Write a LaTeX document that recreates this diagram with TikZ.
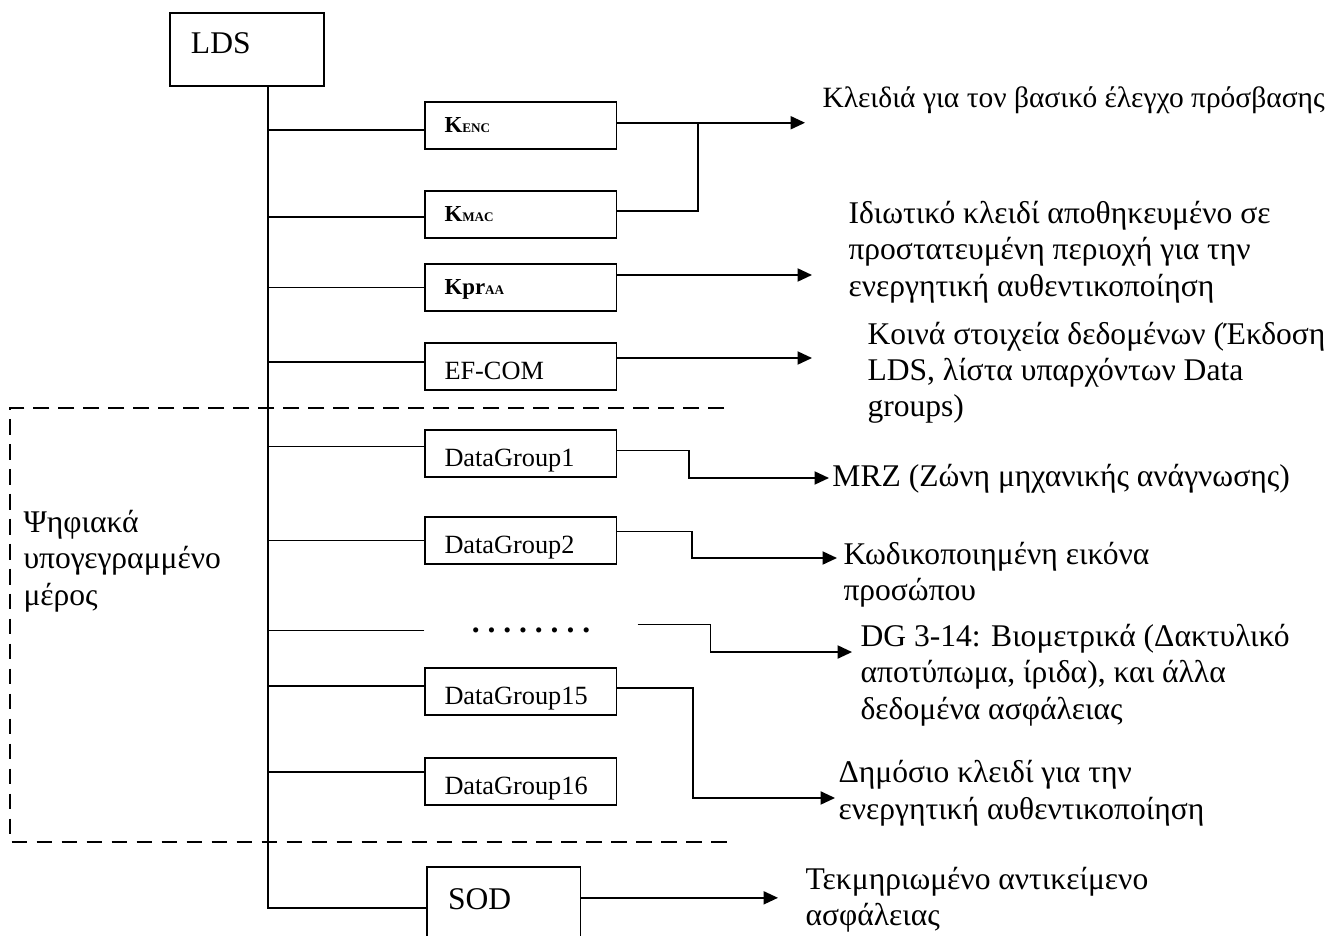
\documentclass[tikz,border=0pt]{standalone}
\usepackage{fontspec}
\setmainfont{Liberation Serif}
\usetikzlibrary{arrows.meta, positioning}

\begin{document}
\begin{tikzpicture}[
    node distance=0.5cm and 0.9cm,
    every node/.style={font=\fontsize{12}{13.7}\selectfont},
    blockLDS/.style={rectangle, draw=black, line width=0.75pt, outer sep=0pt, minimum width=2.057cm, minimum height=0.975cm, inner xsep=0.28cm, inner ysep=0pt, text width=1.497cm, align=left, text height=3.3pt, text depth=0pt},
    blockDG/.style={rectangle, draw=black, line width=0.75pt, outer sep=0pt, minimum width=2.565cm, minimum height=0.628cm, inner xsep=0.267cm, inner ysep=0pt, text width=2.031cm, align=left, text height=10pt, text depth=0pt, font=\fontsize{10}{12}\selectfont},
    blockKey/.style={blockDG, text height=5.6pt, font=\fontsize{8.7}{10}\selectfont\bfseries},
    blockSOD/.style={rectangle, draw=black, line width=0.75pt, outer sep=0pt, minimum width=2.057cm, minimum height=1.0cm, inner xsep=0.287cm, inner ysep=0pt, text width=1.483cm, align=left, text height=3.7pt, text depth=0pt},
    desc/.style={anchor=base west, inner sep=0pt, align=left},
    link/.style={line width=0.6pt},
    trunkline/.style={line width=0.75pt},
    arr/.style={line width=0.6pt, -{Triangle[length=5.5pt, width=5pt]}},
    signed/.style={line width=0.6pt, dash pattern=on 6pt off 3.5pt}
]
\useasboundingbox (0,0) rectangle (17.889,-12.505);

% ============== LDS (arriba) ==============
\node[blockLDS] (lds) at (3.300,-0.661) {LDS};
\coordinate (trunk) at ([xshift=0.281cm]lds.south);

% ============== Claves ==============
\node[blockKey] (kenc) at (6.954,-1.677) {K{\fontsize{5}{6}\selectfont ENC}};
\node[blockKey, below=0.561cm of kenc] (kmac) {K{\fontsize{5}{6}\selectfont MAC}};
\node[blockKey, below=0.347cm of kmac] (kpr) {Kpr{\fontsize{5}{6}\selectfont AA}};
\node[blockDG, below=0.428cm of kpr] (efcom) {EF-COM};

% ============== Data groups ==============
\node[blockDG, below=0.534cm of efcom] (dg1) {DataGroup1};
\node[blockDG, below=0.534cm of dg1] (dg2) {DataGroup2};
\node[below=0.568cm of dg2, xshift=0.14cm, minimum width=2.832cm, minimum height=0.628cm, inner sep=0pt, font=\fontsize{12}{13.7}\selectfont\bfseries\frenchspacing] (dots) {. . . . . . . .};
\node[blockDG, below=1.389cm of dg2] (dg15) {DataGroup15};
\node[blockDG, below=0.574cm of dg15] (dg16) {DataGroup16};
\node[blockSOD, below=0.828cm of dg16, xshift=-0.227cm] (sod) {SOD};

% ============== Textos (derecha) ==============
\node[desc, font=\fontsize{11.2}{13}\selectfont] (lblkeys) at (10.982,-1.430) {Κλειδιά για τον βασικό έλεγχο πρόσβασης};
\node[desc] (lblpriv) at (11.329,-3.955) {Ιδιωτικό κλειδί αποθηκευμένο σε\\προστατευμένη περιοχή για την\\ενεργητική αυθεντικοποίηση};
\node[desc] (lblcom) at (11.583,-5.571) {Κοινά στοιχεία δεδομένων (Έκδοση\\LDS, λίστα υπαρχόντων Data\\groups)};
\node[desc] (lblmrz) at (11.115,-6.493) {MRZ (Ζώνη μηχανικής ανάγνωσης)};
\node[desc] (lblface) at (11.262,-8.029) {Κωδικοποιημένη εικόνα\\προσώπου};
\node[desc] (lblbio) at (11.490,-9.606) {DG 3-14: Βιομετρικά (Δακτυλικό\\αποτύπωμα, ίριδα), και άλλα\\δεδομένα ασφάλειας};
\node[desc] (lblpub) at (11.196,-10.942) {Δημόσιο κλειδί για την\\ενεργητική αυθεντικοποίηση};
\node[desc] (lblsod) at (10.755,-12.371) {Τεκμηριωμένο αντικείμενο\\ασφάλειας};

% ============== Parte firmada (izquierda) ==============
\node[desc] (lblsigned) at (0.307,-8.083) {Ψηφιακά\\υπογεγραμμένο\\μέρος};
\draw[signed] (9.673,-5.451) -- (0.134,-5.451) -- (0.134,-11.249) -- (9.713,-11.249);

% ============== Tronco y ramas ==============
\draw[trunkline] (trunk) |- ([yshift=-0.047cm]sod.west);
\draw[link] ([yshift=-0.06cm]kenc.west) -| (trunk);
\draw[link] ([yshift=-0.033cm]kmac.west) -| (trunk);
\draw[link] (kpr.west) -| (trunk);
\draw[link] ([yshift=0.06cm]efcom.west) -| (trunk);
\draw[link] ([yshift=0.094cm]dg1.west) -| (trunk);
\draw[link] (dg2.west) -| (trunk);
\draw[link] (dots.west) -| (trunk);
\draw[link] ([yshift=0.073cm]dg15.west) -| (trunk);
\draw[link] ([yshift=0.127cm]dg16.west) -| (trunk);

% ============== Flechas a los textos ==============
\draw[arr, shorten >=0.227cm] ([yshift=0.037cm]kenc.east) -- ([yshift=0.037cm]kenc.east -| lblkeys.west);
\draw[link] ([yshift=0.047cm]kmac.east) -- ++(1.089,0) |- ([yshift=0.037cm]kenc.east);
\draw[arr, shorten >=0.481cm] ([yshift=0.167cm]kpr.east) -- ([yshift=0.167cm]kpr.east -| lblpriv.west);
\draw[arr, shorten >=0.735cm] ([yshift=0.114cm]efcom.east) -- ([yshift=0.114cm]efcom.east -| lblcom.west);
\draw[arr, shorten >=0.04cm] ([yshift=0.04cm]dg1.east) -- ++(0.969,0) |- ([yshift=0.107cm]lblmrz.base west);
\draw[arr, shorten >=0.08cm] ([yshift=0.12cm]dg2.east) -- ++(1.009,0) |- ([yshift=0.574cm]lblface.base west);
\draw[arr, shorten >=0.107cm] ([yshift=0.08cm]dots.east) -- ++(0.975,0) |- ([yshift=0.895cm]lblbio.base west);
\draw[arr, shorten >=0.04cm] ([yshift=0.047cm]dg15.east) -- ++(1.022,0) |- ([yshift=0.281cm]lblpub.base west);
\draw[arr, shorten >=0.361cm] ([yshift=0.087cm]sod.east) -- ([yshift=0.087cm]sod.east -| lblsod.west);
\end{tikzpicture}
\end{document}
